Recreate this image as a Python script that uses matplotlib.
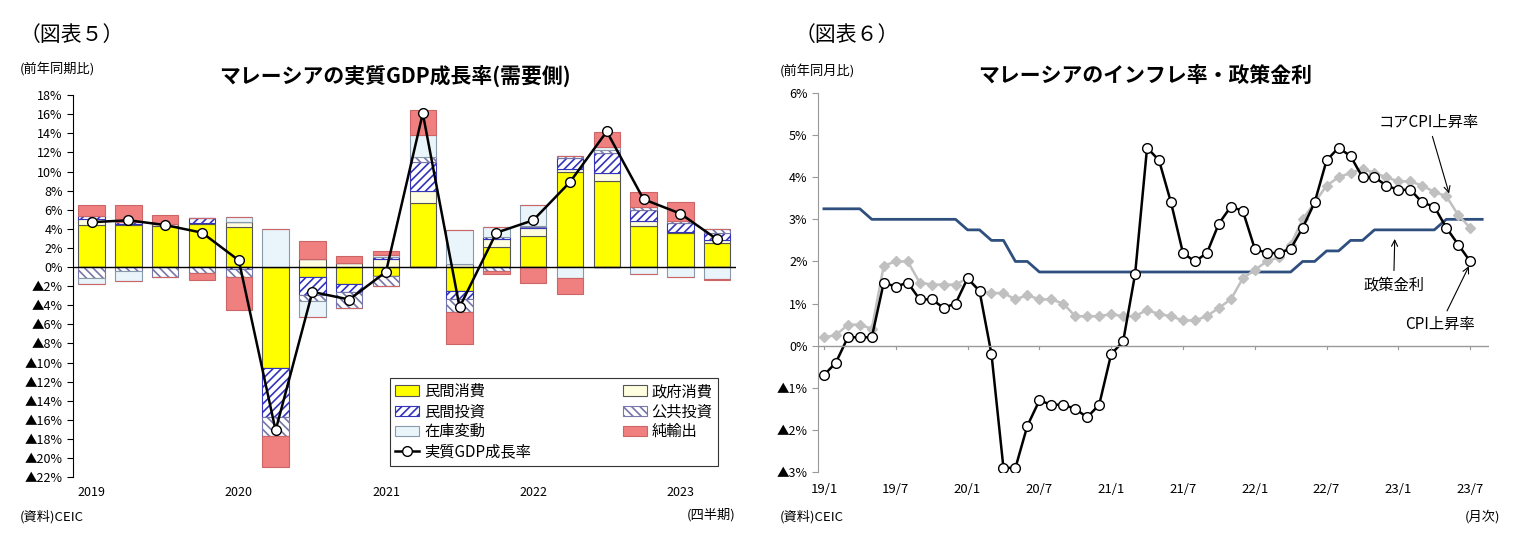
import matplotlib
matplotlib.use("Agg")
import matplotlib.pyplot as plt
import numpy as np

plt.rcParams['font.family'] = 'Noto Sans CJK JP'
plt.rcParams['hatch.linewidth'] = 1.2

# ---- Left chart data (quarterly, 2019Q1-2023Q2) ----
years = ["2019", "2020", "2021", "2022", "2023"]
priv_cons = [4.4, 4.4, 4.3, 4.5, 4.2, -10.6, -1.0, -1.8, -0.9, 6.7, -2.5, 2.1, 3.3, 10.0, 9.0, 4.3, 3.6, 2.5]
gov_cons  = [0.6, 0.1, 0.2, 0.1, 0.5, 0.0, 0.8, 0.4, 0.8, 1.3, 0.3, 0.8, 0.8, 0.3, 0.8, 0.5, 0.1, 0.3]
priv_inv  = [0.3, 0.2, 0.0, 0.5, -0.2, -5.1, -1.9, -0.8, 0.3, 3.0, -0.8, 0.2, 0.1, 1.1, 2.1, 1.2, 0.9, 0.8]
pub_inv   = [-1.1, -0.4, -1.0, -0.6, -0.8, -2.0, -0.7, -1.7, -1.1, 0.5, -1.4, -0.4, 0.1, 0.2, 0.4, 0.3, 0.2, 0.4]
inventory = [-0.7, -1.1, 0.0, 0.0, 0.5, 4.0, -1.6, 0.0, 0.2, 2.3, 3.6, 1.1, 2.2, -1.1, 0.3, -0.7, -1.0, -1.2]
net_exp   = [1.2, 1.8, 1.0, -0.8, -3.5, -3.2, 1.9, 0.8, 0.4, 2.6, -3.4, -0.3, -1.7, -1.7, 1.5, 1.6, 2.0, -0.2]
gdp       = [4.7, 4.9, 4.4, 3.6, 0.7, -17.1, -2.6, -3.4, -0.5, 16.1, -4.2, 3.6, 4.9, 8.9, 14.2, 7.1, 5.6, 2.9]

# ---- Right chart data (monthly, 2019/1-2023/7) ----
cpi = [-0.7, -0.4, 0.2, 0.2, 0.2, 1.5, 1.4, 1.5, 1.1, 1.1, 0.9, 1.0,
       1.6, 1.3, -0.2, -2.9, -2.9, -1.9, -1.3, -1.4, -1.4, -1.5, -1.7, -1.4,
       -0.2, 0.1, 1.7, 4.7, 4.4, 3.4, 2.2, 2.0, 2.2, 2.9, 3.3, 3.2,
       2.3, 2.2, 2.2, 2.3, 2.8, 3.4, 4.4, 4.7, 4.5, 4.0, 4.0, 3.8,
       3.7, 3.7, 3.4, 3.3, 2.8, 2.4, 2.0]
core = [0.2, 0.25, 0.5, 0.5, 0.4, 1.9, 2.0, 2.0, 1.5, 1.45, 1.45, 1.45,
        1.6, 1.3, 1.25, 1.25, 1.1, 1.2, 1.1, 1.1, 1.0, 0.7, 0.7, 0.7,
        0.75, 0.7, 0.7, 0.85, 0.75, 0.7, 0.6, 0.6, 0.7, 0.9, 1.1, 1.6,
        1.8, 2.0, 2.1, 2.4, 3.0, 3.4, 3.8, 4.0, 4.1, 4.2, 4.1, 4.0,
        3.9, 3.9, 3.8, 3.65, 3.55, 3.1, 2.8]
policy = [3.25, 3.25, 3.25, 3.25, 3.0, 3.0, 3.0, 3.0, 3.0, 3.0, 3.0, 3.0,
          2.75, 2.75, 2.5, 2.5, 2.0, 2.0, 1.75, 1.75, 1.75, 1.75, 1.75, 1.75,
          1.75, 1.75, 1.75, 1.75, 1.75, 1.75, 1.75, 1.75, 1.75, 1.75, 1.75, 1.75,
          1.75, 1.75, 1.75, 1.75, 2.0, 2.0, 2.25, 2.25, 2.5, 2.5, 2.75, 2.75,
          2.75, 2.75, 2.75, 2.75, 3.0, 3.0, 3.0, 3.0]
month_labels = ["19/1", "19/7", "20/1", "20/7", "21/1", "21/7", "22/1", "22/7", "23/1", "23/7"]

fig = plt.figure(figsize=(15.26, 5.6), dpi=100)

# ================= Left chart =================
ax = fig.add_axes([0.048, 0.148, 0.434, 0.682])
n = len(gdp)
x = np.arange(n)
comps = [
    ("民間消費", priv_cons, dict(facecolor="#ffff00", edgecolor="#555555", hatch=None)),
    ("政府消費", gov_cons, dict(facecolor="#ffffe0", edgecolor="#555555", hatch=None)),
    ("民間投資", priv_inv, dict(facecolor="white", edgecolor="#3333bb", hatch="////")),
    ("公共投資", pub_inv, dict(facecolor="white", edgecolor="#7777aa", hatch="\\\\\\\\")),
    ("在庫変動", inventory, dict(facecolor="#eaf5fb", edgecolor="#8899aa", hatch=None)),
    ("純輸出", net_exp, dict(facecolor="#f08080", edgecolor="#cc6666", hatch=None)),
]
pos_base = np.zeros(n)
neg_base = np.zeros(n)
handles = []
for name, vals, st in comps:
    v = np.array(vals)
    pos = np.where(v > 0, v, 0)
    neg = np.where(v < 0, v, 0)
    b = ax.bar(x, pos, 0.72, bottom=pos_base, label=name, linewidth=0.8, **st)
    ax.bar(x, neg, 0.72, bottom=neg_base, linewidth=0.8, **st)
    pos_base += pos
    neg_base += neg
    handles.append(b)
ln, = ax.plot(x, gdp, color="black", lw=1.8, marker="o", ms=7, mfc="white", mec="black", label="実質GDP成長率")
ax.axhline(0, color="black", lw=1.0)
ax.set_xlim(-0.5, n - 0.5)
ax.set_ylim(-22, 18)
yt = np.arange(-22, 19, 2)
ax.set_yticks(yt)
ax.set_yticklabels([f"{v}%" if v >= 0 else f"▲{-v}%" for v in yt], fontsize=9)
ax.set_xticks([])
for i, yl in enumerate(years):
    ax.text(4 * i, -22.9, yl, ha="center", va="top", fontsize=9)
for s in ["top", "right", "bottom"]:
    ax.spines[s].set_visible(False)
ax.tick_params(axis="y", length=4)
leg_order = [handles[0], handles[2], handles[4], ln, handles[1], handles[3], handles[5]]
leg = ax.legend(handles=leg_order, ncol=2, loc="lower right", bbox_to_anchor=(0.985, 0.01),
                fontsize=11, frameon=True, fancybox=False, edgecolor="black",
                handlelength=1.6, handletextpad=0.3, labelspacing=0.2, columnspacing=6.0,
                borderpad=0.35)
leg.get_frame().set_linewidth(0.8)

fig.text(20 / 1526, 1 - 35 / 560, "（図表５）", fontsize=15, va="center")
fig.text(20 / 1526, 1 - 70 / 560, "(前年同期比)", fontsize=9.5, va="center")
fig.text(395 / 1526, 1 - 76 / 560, "マレーシアの実質GDP成長率(需要側)", fontsize=15, ha="center", va="center", weight="bold")
fig.text(20 / 1526, 1 - 517 / 560, "(資料)CEIC", fontsize=9.5, va="center")
fig.text(735 / 1526, 1 - 515 / 560, "(四半期)", fontsize=9.5, ha="right", va="center")

# ================= Right chart =================
ax2 = fig.add_axes([0.536, 0.157, 0.44, 0.677])
m = np.arange(len(cpi))
mp = np.arange(len(policy))
ax2.plot(mp, policy, color="#2f4f7f", lw=2.0)
ax2.plot(m, core, color="#c0c0c0", lw=1.8, marker="D", ms=5, mfc="#c0c0c0", mec="#c0c0c0")
ax2.plot(m, cpi, color="black", lw=1.8, marker="o", ms=7, mfc="white", mec="black")
ax2.axhline(0, color="#999999", lw=1.0)
ax2.set_xlim(-0.5, 55.6)
ax2.set_ylim(-3, 6)
yt2 = np.arange(-3, 7, 1)
ax2.set_yticks(yt2)
ax2.set_yticklabels([f"{v}%" if v >= 0 else f"▲{-v}%" for v in yt2], fontsize=9)
ax2.set_xticks([])
for i, lab in enumerate(month_labels):
    ax2.text(6 * i, -3.25, lab, ha="center", va="top", fontsize=9.5)
for k in range(0, 55, 6):
    ax2.plot([k, k], [0, -0.08], color="#999999", lw=0.8)
for s in ["top", "right", "bottom"]:
    ax2.spines[s].set_visible(False)
ax2.spines["left"].set_color("#999999")
ax2.tick_params(axis="y", length=4, color="#999999")

ax2.annotate("コアCPI上昇率", xy=(52.3, 3.55), xytext=(50.5, 5.3), fontsize=11,
             ha="center", va="center", arrowprops=dict(arrowstyle="->", color="black", lw=0.8))
ax2.annotate("政策金利", xy=(47.7, 2.6), xytext=(47.6, 1.45), fontsize=11,
             ha="center", va="center", arrowprops=dict(arrowstyle="->", color="black", lw=0.8))
ax2.annotate("CPI上昇率", xy=(54.0, 1.95), xytext=(51.5, 0.5), fontsize=11,
             ha="center", va="center", arrowprops=dict(arrowstyle="->", color="black", lw=0.8))

fig.text(795 / 1526, 1 - 35 / 560, "（図表６）", fontsize=15, va="center")
fig.text(780 / 1526, 1 - 72 / 560, "(前年同月比)", fontsize=9.5, va="center")
fig.text(1145 / 1526, 1 - 75 / 560, "マレーシアのインフレ率・政策金利", fontsize=15, ha="center", va="center", weight="bold")
fig.text(780 / 1526, 1 - 517 / 560, "(資料)CEIC", fontsize=9.5, va="center")
fig.text(1500 / 1526, 1 - 517 / 560, "(月次)", fontsize=9.5, ha="right", va="center")

fig.savefig("out.png", dpi=100)
